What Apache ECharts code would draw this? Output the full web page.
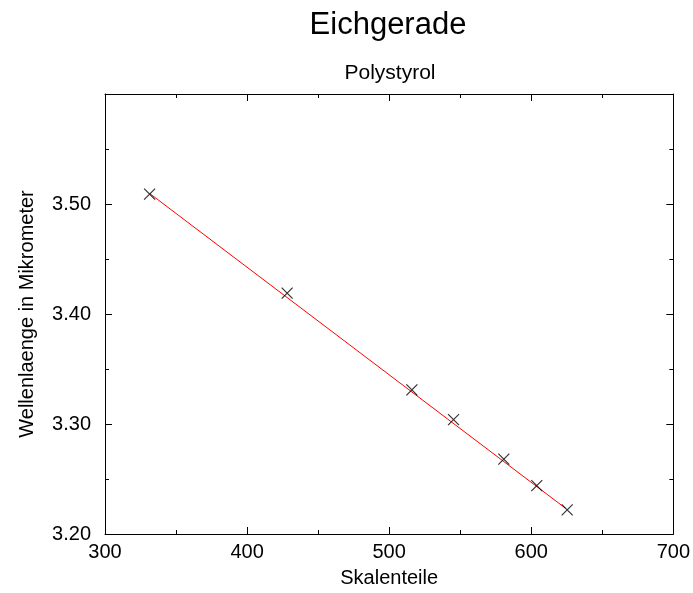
<!DOCTYPE html>
<html>
<head>
<meta charset="utf-8">
<script src="https://cdn.jsdelivr.net/npm/echarts@6/dist/echarts.min.js"></script>
<style>
html,body{margin:0;padding:0;background:#fff;}
#chart{width:693px;height:593px;}
</style>
</head>
<body>
<div id="chart"></div>
<script>
// Data
var skalenteile = [331.4, 428.2, 516.0, 545.3, 580.7, 603.9, 625.3];
var wellenlaenge = [3.509, 3.419, 3.331, 3.304, 3.268, 3.244, 3.222];
// Fitted calibration line endpoints (as drawn)
var fitX = [331.5, 624.0];
var fitY = [3.5095, 3.2235];
var xTicks = [300, 400, 500, 600, 700];
var yTicks = [3.20, 3.30, 3.40, 3.50];

var FONT = 'Liberation Sans, Arial, sans-serif';
var points = skalenteile.map(function (x, i) { return [x, wellenlaenge[i]]; });
var fitLine = fitX.map(function (x, i) { return [x, fitY[i]]; });

var chart = echarts.init(document.getElementById('chart'), null, {renderer: 'canvas'});

function axisCommon(extra) {
  var base = {
    axisLine: {show: true, lineStyle: {color: '#000', width: 1}},
    axisTick: {show: true, inside: true, length: 7, lineStyle: {color: '#000', width: 1}},
    minorTick: {show: true, splitNumber: 2, length: 4, lineStyle: {color: '#000', width: 1}},
    splitLine: {show: false},
    minorSplitLine: {show: false}
  };
  for (var k in extra) base[k] = extra[k];
  return base;
}

chart.setOption({
  backgroundColor: '#fff',
  animation: false,
  title: [
    {text: 'Eichgerade', left: 383, top: 5, textAlign: 'center', padding: 5,
     textStyle: {fontFamily: FONT, fontSize: 31, fontWeight: 'normal', color: '#000'}},
    {text: 'Polystyrol', left: 385, top: 58, textAlign: 'center', padding: 5,
     textStyle: {fontFamily: FONT, fontSize: 21, fontWeight: 'normal', color: '#000'}}
  ],
  grid: {left: 105, right: 19, top: 94, bottom: 58, containLabel: false},
  xAxis: [
    axisCommon({
      type: 'value', position: 'bottom', min: 300, max: 700, interval: 100,
      name: 'Skalenteile', nameLocation: 'middle', nameGap: 34,
      nameTextStyle: {fontFamily: FONT, fontSize: 20, color: '#000'},
      axisLabel: {show: true, margin: 8, fontFamily: FONT, fontSize: 20, color: '#000',
        formatter: function (v) { return xTicks.indexOf(v) >= 0 ? String(v) : ''; }}
    }),
    axisCommon({
      type: 'value', position: 'top', min: 300, max: 700, interval: 100,
      axisLabel: {show: false}
    })
  ],
  yAxis: [
    axisCommon({
      type: 'value', position: 'left', min: 3.2, max: 3.6, interval: 0.1,
      name: 'Wellenlaenge in Mikrometer', nameLocation: 'middle', nameGap: 68,
      nameTextStyle: {fontFamily: FONT, fontSize: 20, color: '#000'},
      axisLabel: {show: true, margin: 14, fontFamily: FONT, fontSize: 20, color: '#000',
        formatter: function (v) {
          for (var i = 0; i < yTicks.length; i++) {
            if (Math.abs(yTicks[i] - v) < 1e-6) return yTicks[i].toFixed(2);
          }
          return '';
        }}
    }),
    axisCommon({
      type: 'value', position: 'right', min: 3.2, max: 3.6, interval: 0.1,
      axisLabel: {show: false}
    })
  ],
  series: [
    {
      type: 'line', data: fitLine, xAxisIndex: 0, yAxisIndex: 0,
      showSymbol: false, symbol: 'none', silent: true, z: 2,
      lineStyle: {color: '#ff0000', width: 1}
    },
    {
      type: 'scatter', data: points, xAxisIndex: 0, yAxisIndex: 0, z: 3,
      symbol: 'path://M0,0L10,10M10,0L0,10', symbolSize: 11,
      itemStyle: {color: 'rgba(0,0,0,0)', borderColor: '#000', borderWidth: 1.2}
    }
  ]
});
</script>
</body>
</html>
